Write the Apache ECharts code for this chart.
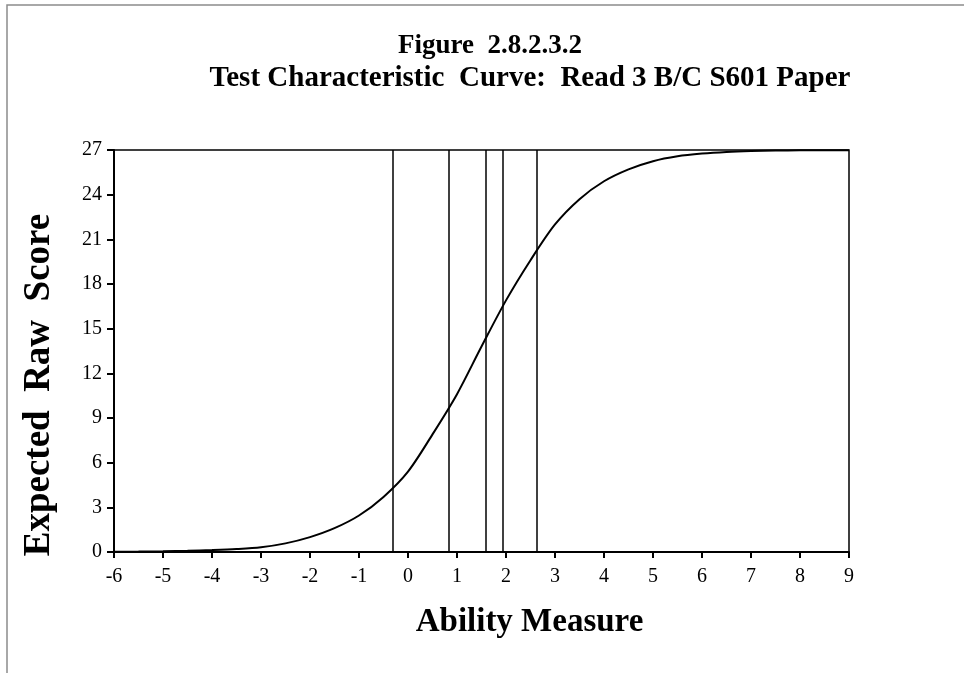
<!DOCTYPE html>
<html>
<head>
<meta charset="utf-8">
<script src="https://cdn.jsdelivr.net/npm/echarts@6/dist/echarts.min.js"></script>
<style>
  html, body { margin: 0; padding: 0; background: #fff; }
  #chart { width: 964px; height: 673px; }
</style>
</head>
<body>
<div id="chart"></div>
<script>
// ability measure (logits) and expected raw score
var abilityValues = [-6, -5.5, -5, -4.5, -4, -3.5, -3, -2.5, -2, -1.5, -1, -0.5, 0, 0.5, 1, 1.5, 2, 2.5, 3, 3.5, 4, 4.5, 5, 5.5, 6, 6.5, 7, 7.5, 8, 8.5, 9];
var scoreValues = [0.02, 0.03, 0.05, 0.08, 0.13, 0.2, 0.32, 0.58, 1.0, 1.6, 2.45, 3.7, 5.4, 7.9, 10.6, 13.8, 16.9, 19.6, 22.0, 23.7, 24.9, 25.7, 26.25, 26.58, 26.76, 26.87, 26.93, 26.96, 26.98, 26.99, 26.99];
// vertical reference lines (cut scores)
var cutScores = [-0.31, 0.83, 1.59, 1.93, 2.62];
var xTicks = [-6, -5, -4, -3, -2, -1, 0, 1, 2, 3, 4, 5, 6, 7, 8, 9];
var yTicks = [0, 3, 6, 9, 12, 15, 18, 21, 24, 27];

var serif = '"Liberation Serif", "DejaVu Serif", serif';

var curveData = abilityValues.map(function (x, i) {
    return [x, scoreValues[i]];
});

var chart = echarts.init(document.getElementById('chart'));
chart.setOption({
    animation: false,
    backgroundColor: '#fff',
    graphic: [{
        type: 'rect',
        shape: { x: 7, y: 5, width: 1000, height: 720 },
        style: { fill: 'none', stroke: '#8c8c8c', lineWidth: 1.5 },
        silent: true
    }],
    title: [{
        text: 'Figure  2.8.2.3.2',
        left: 485,
        top: 28,
        textAlign: 'center',
        textStyle: { fontFamily: serif, fontWeight: 'bold', fontSize: 27, color: '#000' }
    }, {
        text: 'Test Characteristic  Curve:  Read 3 B/C S601 Paper',
        left: 525,
        top: 59,
        textAlign: 'center',
        textStyle: { fontFamily: serif, fontWeight: 'bold', fontSize: 29, color: '#000' }
    }],
    grid: {
        left: 114,
        right: 115,
        top: 150,
        bottom: 121,
        show: true,
        borderColor: '#000',
        borderWidth: 1.5,
        backgroundColor: 'transparent'
    },
    xAxis: {
        type: 'value',
        min: xTicks[0],
        max: xTicks[xTicks.length - 1],
        interval: 1,
        name: 'Ability Measure',
        nameLocation: 'middle',
        nameGap: 54,
        nameTextStyle: { fontFamily: serif, fontWeight: 'bold', fontSize: 33, color: '#000', padding: [0, 0, 0, 96] },
        axisLine: { show: true, onZero: false, lineStyle: { color: '#000', width: 2 } },
        axisTick: { show: true, inside: false, length: 6, lineStyle: { color: '#000', width: 2 } },
        axisLabel: { fontFamily: serif, fontSize: 20, color: '#000', margin: 15 },
        splitLine: { show: false }
    },
    yAxis: {
        type: 'value',
        min: yTicks[0],
        max: yTicks[yTicks.length - 1],
        interval: 3,
        name: 'Expected  Raw  Score',
        nameLocation: 'middle',
        nameGap: 56,
        nameTextStyle: { fontFamily: serif, fontWeight: 'bold', fontSize: 37, color: '#000', padding: [0, 68, 0, 0] },
        axisLine: { show: true, onZero: false, lineStyle: { color: '#000', width: 2 } },
        axisTick: { show: true, inside: false, length: 7, lineStyle: { color: '#000', width: 2 } },
        axisLabel: { fontFamily: serif, fontSize: 20, color: '#000', margin: 12 },
        splitLine: { show: false }
    },
    series: [{
        type: 'line',
        data: curveData,
        smooth: 0.3,
        showSymbol: false,
        lineStyle: { color: '#000', width: 2 },
        markLine: {
            silent: true,
            symbol: ['none', 'none'],
            label: { show: false },
            lineStyle: { color: '#000', width: 1.5, type: 'solid' },
            data: cutScores.map(function (c) {
                return { xAxis: c };
            })
        }
    }]
});
</script>
</body>
</html>
